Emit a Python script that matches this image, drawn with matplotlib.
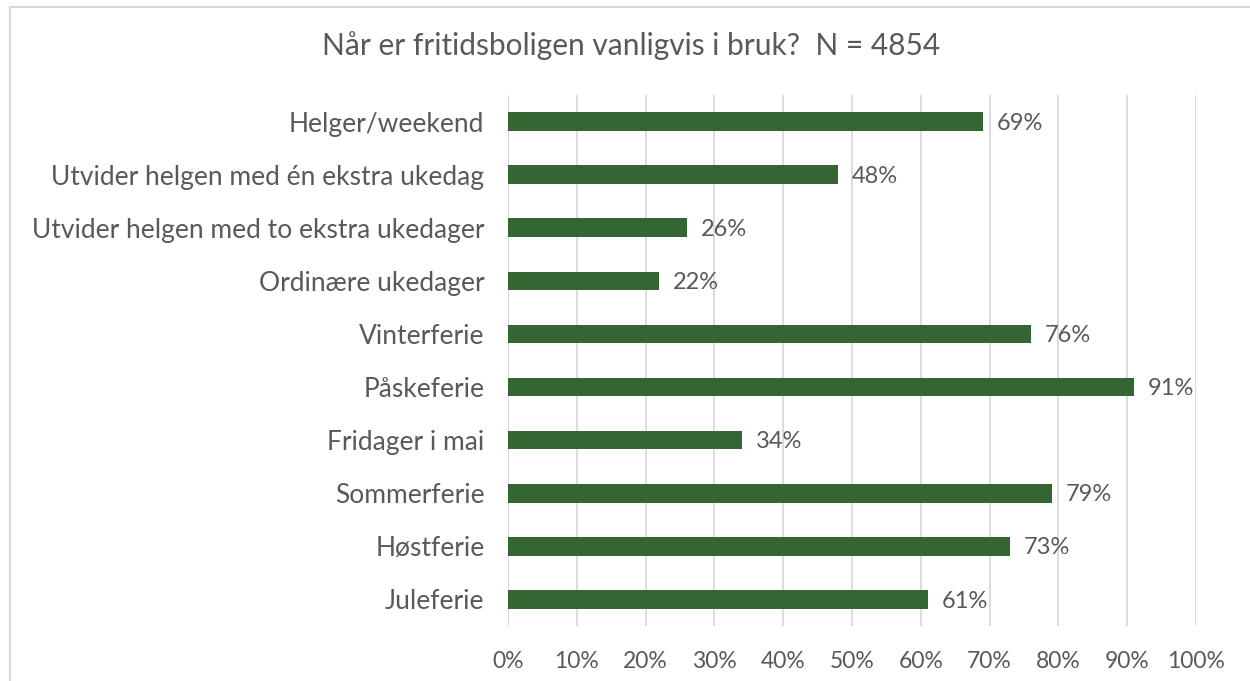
import matplotlib.pyplot as plt
from matplotlib.lines import Line2D
from matplotlib.ticker import MultipleLocator, FuncFormatter

categories = [
    "Helger/weekend",
    "Utvider helgen med én ekstra ukedag",
    "Utvider helgen med to ekstra ukedager",
    "Ordinære ukedager",
    "Vinterferie",
    "Påskeferie",
    "Fridager i mai",
    "Sommerferie",
    "Høstferie",
    "Juleferie",
]
values = [69, 48, 26, 22, 76, 91, 34, 79, 73, 61]

title = "Når er fritidsboligen vanligvis i bruk?  N = 4854"
bar_color = "#336633"
text_color = "#595959"
grid_color = "#d9d9d9"

plt.rcParams["font.family"] = ["Lato", "DejaVu Sans"]

W, H = 1250, 681
fig = plt.figure(figsize=(W / 100, H / 100), dpi=100)
ax = fig.add_axes([508 / W, 1 - 626 / H, (1196 - 508) / W, (626 - 95) / H])

y = list(range(len(categories)))
ax.barh(y, values, height=0.35, color=bar_color, zorder=3)
for yi, v in zip(y, values):
    ax.text(v + 2.0, yi + 0.03, f"{v}%", va="center", ha="left", fontsize=17,
            color=text_color)

ax.set_xlim(0, 100)
ax.set_ylim(len(categories) - 0.5, -0.5)
ax.set_yticks(y)
ax.set_yticklabels(categories, fontsize=19)
ax.xaxis.set_major_locator(MultipleLocator(10))
ax.xaxis.set_major_formatter(FuncFormatter(lambda v, p: f"{v:.0f}%"))
ax.tick_params(axis="both", length=0, colors=text_color)
ax.tick_params(axis="x", pad=18, labelsize=16.5)
ax.tick_params(axis="y", pad=17)
ax.grid(axis="x", color=grid_color, linewidth=1.3, zorder=0)
for s in ax.spines.values():
    s.set_visible(False)
ax.axvline(0, color=grid_color, linewidth=1.3, zorder=0)

fig.text(631 / W, 1 - 46 / H, title, ha="center", va="center",
         fontsize=21.5, color=text_color)

# chart border (only top and left are inside the crop)
fig.add_artist(Line2D([10 / W, 1], [1 - 7 / H, 1 - 7 / H],
                      transform=fig.transFigure, color=grid_color, linewidth=1.5))
fig.add_artist(Line2D([10 / W, 10 / W], [1 - 7 / H, 0],
                      transform=fig.transFigure, color=grid_color, linewidth=1.5))

fig.savefig("out.png", dpi=100)
